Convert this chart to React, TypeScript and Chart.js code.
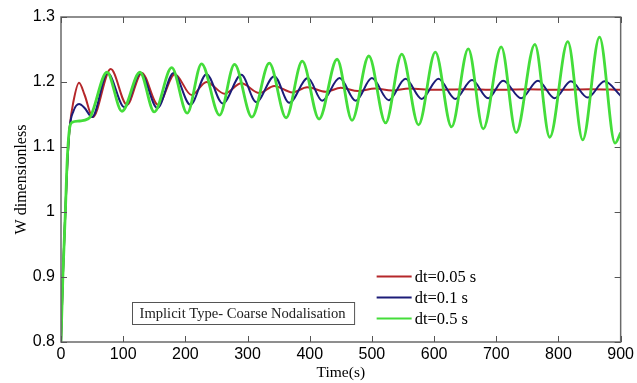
import { useEffect, useRef } from "react";
import { Chart, registerables } from "chart.js";

Chart.register(...registerables);

// ---- data ----
const redT = [0, 3, 7, 10, 14, 20, 29, 38, 51, 80, 106, 130, 156, 183, 210, 234, 263, 290, 319, 343, 372, 396, 426, 450, 478, 505, 532, 560, 600, 650, 700, 750, 800, 850, 900];
const redW = [0.8, 0.9, 1.0, 1.07, 1.13, 1.17, 1.199, 1.18, 1.146, 1.22, 1.165, 1.214, 1.165, 1.212, 1.18, 1.2, 1.182, 1.198, 1.183, 1.194, 1.184, 1.192, 1.185, 1.191, 1.186, 1.19, 1.187, 1.19, 1.188, 1.189, 1.188, 1.189, 1.188, 1.189, 1.188];

const blueT = [0, 3, 7, 10, 14, 20, 29, 38, 50, 75, 102, 128, 155, 181, 208, 234, 260, 290, 314, 343, 367, 397, 420, 448, 474, 500, 527, 554, 580, 607, 634, 661, 687, 711, 740, 767, 794, 820, 847, 874, 900];
const blueW = [0.8, 0.9, 1.0, 1.07, 1.13, 1.155, 1.166, 1.16, 1.146, 1.214, 1.161, 1.214, 1.16, 1.214, 1.165, 1.212, 1.167, 1.211, 1.169, 1.209, 1.168, 1.206, 1.171, 1.206, 1.171, 1.206, 1.172, 1.205, 1.174, 1.205, 1.174, 1.203, 1.175, 1.202, 1.175, 1.202, 1.175, 1.201, 1.176, 1.201, 1.179];

const greenT = [0, 3, 7, 10, 14, 18, 30, 43, 48, 74, 98, 127, 150, 178, 203, 226, 255, 279, 307, 335, 362, 388, 415, 444, 468, 495, 522, 548, 575, 602, 628, 655, 679, 708, 732, 762, 786, 815, 839, 866, 891, 900];
const greenW = [0.8, 0.9, 1.0, 1.08, 1.13, 1.138, 1.14, 1.143, 1.148, 1.215, 1.155, 1.215, 1.154, 1.222, 1.152, 1.228, 1.149, 1.227, 1.146, 1.229, 1.145, 1.232, 1.143, 1.235, 1.141, 1.24, 1.137, 1.243, 1.134, 1.246, 1.131, 1.251, 1.128, 1.254, 1.122, 1.258, 1.115, 1.262, 1.111, 1.269, 1.106, 1.122];

const seriesLabels = ["dt=0.05 s", "dt=0.1 s", "dt=0.5 s"];
const seriesColors = ["#b5272a", "#1c1c78", "#44dd3a"];
const xMin = 0, xMax = 900, xStep = 100;
const yMin = 0.8, yMax = 1.3, yStep = 0.1;
const xTitle = "Time(s)";
const yTitle = "W dimensionless";
const noteText = "Implicit Type- Coarse Nodalisation";

const toPts = (t: number[], w: number[]) => t.map((x, i) => ({ x, y: w[i] }));

const framePlugin = {
  id: "frameAndNotes",
  afterDraw(chart: any) {
    const { ctx, chartArea: a, scales } = chart;
    const xs = scales.x, ys = scales.y;
    ctx.save();
    // frame
    ctx.strokeStyle = "#6a6a6a";
    ctx.lineWidth = 1.5;
    ctx.strokeRect(a.left, a.top, a.right - a.left, a.bottom - a.top);
    // inner ticks on all four sides
    const tl = 6;
    ctx.lineWidth = 1;
    ctx.strokeStyle = "#555";
    ctx.beginPath();
    xs.ticks.forEach((tk: any) => {
      const px = Math.round(xs.getPixelForValue(tk.value)) + 0.5;
      ctx.moveTo(px, a.bottom); ctx.lineTo(px, a.bottom - tl);
      ctx.moveTo(px, a.top); ctx.lineTo(px, a.top + tl);
    });
    ys.ticks.forEach((tk: any) => {
      const py = Math.round(ys.getPixelForValue(tk.value)) + 0.5;
      ctx.moveTo(a.left, py); ctx.lineTo(a.left + tl, py);
      ctx.moveTo(a.right, py); ctx.lineTo(a.right - tl, py);
    });
    ctx.stroke();

    // legend (inside, lower right, no box)
    const ds = chart.data.datasets;
    ctx.font = "16.5px 'Liberation Serif', serif";
    ctx.textBaseline = "middle";
    ctx.fillStyle = "#000";
    const lx0 = a.left + (a.right - a.left) * 0.564;
    const ly0 = a.top + (a.bottom - a.top) * 0.797;
    const rowH = 21;
    ds.forEach((d: any, i: number) => {
      const y = Math.round(ly0 + i * rowH) + 0.5;
      ctx.strokeStyle = d.borderColor;
      ctx.lineWidth = 2;
      ctx.beginPath();
      ctx.moveTo(lx0, y); ctx.lineTo(lx0 + 35, y);
      ctx.stroke();
      ctx.fillText(d.label, lx0 + 38, y + 1);
    });

    // annotation box
    ctx.font = "14.6px 'Liberation Serif', serif";
    const tw = ctx.measureText(noteText).width;
    const bx = a.left + (a.right - a.left) * 0.126;
    const by = a.top + (a.bottom - a.top) * 0.878;
    const bw = tw + 16, bh = 22;
    ctx.fillStyle = "#fff";
    ctx.fillRect(bx, by, bw, bh);
    ctx.strokeStyle = "#555";
    ctx.lineWidth = 1;
    ctx.strokeRect(Math.round(bx) + 0.5, Math.round(by) + 0.5, bw, bh);
    ctx.fillStyle = "#222";
    ctx.fillText(noteText, bx + 8, by + bh / 2 + 1);
    ctx.restore();
  },
};

export default function App() {
  const ref = useRef<HTMLCanvasElement | null>(null);
  useEffect(() => {
    if (!ref.current) return;
    const mk = (i: number, t: number[], w: number[], width: number, order: number) => ({
      label: seriesLabels[i],
      data: toPts(t, w),
      borderColor: seriesColors[i],
      backgroundColor: seriesColors[i],
      borderWidth: width,
      pointRadius: 0,
      cubicInterpolationMode: "monotone" as const,
      fill: false,
      order,
    });
    const chart = new Chart(ref.current, {
      type: "line",
      data: {
        datasets: [
          mk(0, redT, redW, 2, 2),
          mk(1, blueT, blueW, 2, 1),
          mk(2, greenT, greenW, 2.8, 0),
        ],
      },
      options: {
        animation: false,
        responsive: false,
        devicePixelRatio: 1,
        layout: { padding: { top: 17, right: 14, left: 0, bottom: 0 } },
        plugins: { legend: { display: false }, tooltip: { enabled: false } },
        scales: {
          x: {
            type: "linear",
            min: xMin,
            max: xMax,
            grid: { display: false, tickLength: 0 },
            border: { display: false },
            ticks: {
              stepSize: xStep,
              color: "#000",
              padding: 3,
              maxRotation: 0,
              font: { family: "'Liberation Sans', Arial, sans-serif", size: 16 },
            },
            title: {
              display: true,
              text: xTitle,
              color: "#000",
              padding: { top: 0, bottom: 1 },
              font: { family: "'Liberation Serif', serif", size: 15.5 },
            },
            afterFit(scale: any) { scale.height = 41; },
          },
          y: {
            type: "linear",
            min: yMin,
            max: yMax,
            grid: { display: false, tickLength: 0 },
            border: { display: false },
            ticks: {
              stepSize: yStep,
              color: "#000",
              padding: 6,
              font: { family: "'Liberation Sans', Arial, sans-serif", size: 16 },
              callback: (v: any) => Number(v).toFixed(1).replace(/\.0$/, ""),
            },
            title: {
              display: true,
              text: yTitle,
              color: "#000",
              padding: { top: 12, bottom: 0 },
              font: { family: "'Liberation Serif', serif", size: 16 },
            },
            afterFit(scale: any) { scale.width = 61; },
          },
        },
      },
      plugins: [framePlugin],
    });
    return () => chart.destroy();
  }, []);
  return (
    <div style={{ position: "fixed", left: 0, top: 0, width: 637, height: 383, background: "#fff" }}>
      <canvas ref={ref} width={637} height={383} />
    </div>
  );
}
